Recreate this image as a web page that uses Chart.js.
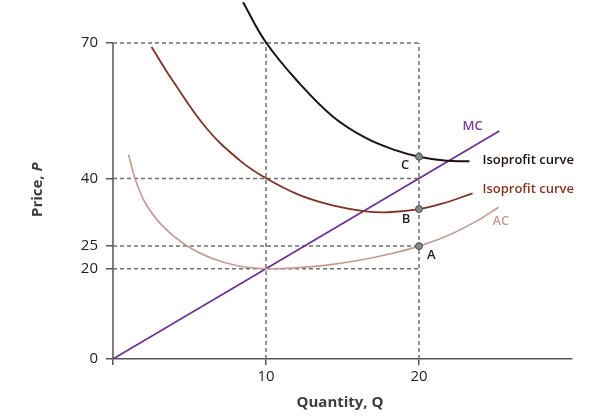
<!DOCTYPE html>
<html>
<head>
<meta charset="utf-8">
<script src="https://cdn.jsdelivr.net/npm/chart.js@4"></script>
<style>
  html, body { margin: 0; padding: 0; background: #fff; }
  #wrap { width: 602px; height: 419px; }
</style>
</head>
<body>
<div id="wrap"><canvas id="chart" width="602" height="419"></canvas></div>
<script>
// values (Q, P)
const xTicks = [0, 10, 20];
const yTicks = [0, 20, 25, 40, 70];

const mcQ = [0, 25.25];
const mcP = [0, 50.5];

const acQ = [1.02, 1.42, 2.1, 3.2, 4.72, 6.46, 8.2, 10, 12, 14, 16, 18, 20, 22, 24, 25.2];
const acP = [45.3, 40.2, 34.6, 29.6, 25.3, 22.3, 20.6, 20, 20.2, 20.8, 21.8, 23.2, 25, 27.5, 31, 33.6];

const isoLowQ = [2.52, 3.93, 6.11, 8.28, 9.92, 12.2, 14.5, 16.5, 18, 20, 21.5, 23.5];
const isoLowP = [69.1, 61.5, 51.1, 44.0, 40.2, 36.3, 33.9, 32.7, 32.5, 33.2, 34.4, 36.7];

const isoHighQ = [8.5, 10, 12.2, 14.4, 16.55, 18.5, 20, 21.8, 23.3];
const isoHighP = [79, 70.1, 61.0, 53.6, 48.9, 46.2, 44.8, 43.9, 43.8];

const guideLevelsP = [70, 40, 25, 20];
const guideLevelsQ = [10, 20];
const guideTopP = 70;
const guideRightQ = 20;

const pointNames = ['A', 'B', 'C'];
const pointQ = [20, 20, 20];
const pointP = [25, 33.2, 44.8];

const colors = {
    mc: '#6b2c8f',
    mcText: '#7a3a9e',
    ac: '#c39a90',
    acText: '#c49c92',
    isoLow: '#7e3327',
    isoLowText: '#85341f',
    isoHigh: '#1f0f0d',
    guide: '#6e6e6e',
    axis: '#555',
    text: '#1e1e1e'
};

function zip(xs, ys) {
    return xs.map((x, i) => ({ x: x, y: ys[i] }));
}

const guideSets = [];
guideLevelsP.forEach(p => guideSets.push({ data: [{ x: 0, y: p }, { x: guideRightQ, y: p }] }));
guideLevelsQ.forEach(q => guideSets.push({ data: [{ x: q, y: 0 }, { x: q, y: guideTopP }] }));
guideSets.forEach(s => Object.assign(s, {
    borderColor: colors.guide, borderWidth: 1.5, borderDash: [4, 3],
    pointRadius: 0, fill: false, order: 5
}));

function curve(q, p, color, width) {
    return {
        data: zip(q, p), borderColor: color, borderWidth: width,
        pointRadius: 0, fill: false, tension: 0.4, order: 2
    };
}

// text placed by data coordinates
const textLabels = [
    { text: 'C', q: 19.1, p: 43.0, color: colors.text, align: 'center' },
    { text: 'B', q: 19.15, p: 30.9, color: colors.text, align: 'center' },
    { text: 'A', q: 20.8, p: 23.0, color: colors.text, align: 'center' },
    { text: 'AC', q: 25.35, p: 30.4, color: colors.acText, align: 'center' },
    { text: 'MC', q: 23.5, p: 51.5, color: colors.mcText, align: 'center' },
    { text: 'Isoprofit curve', q: 24.15, p: 44.1, color: colors.isoHigh, align: 'left' },
    { text: 'Isoprofit curve', q: 24.15, p: 37.6, color: colors.isoLowText, align: 'left' }
];

const decor = {
    id: 'decor',
    beforeDatasetsDraw(chart) {
        const { ctx, scales: { x, y } } = chart;
        ctx.save();
        ctx.strokeStyle = colors.axis;
        ctx.lineWidth = 1.5;
        ctx.beginPath();
        ctx.moveTo(x.getPixelForValue(0), y.getPixelForValue(0));
        ctx.lineTo(x.getPixelForValue(0), y.getPixelForValue(yTicks[yTicks.length - 1]));
        ctx.stroke();
        ctx.restore();
    },
    afterDraw(chart) {
        const { ctx, scales: { x, y } } = chart;
        ctx.save();
        ctx.textBaseline = 'middle';
        ctx.font = '600 13px "Open Sans"';
        textLabels.forEach(l => {
            ctx.fillStyle = l.color;
            ctx.textAlign = l.align;
            ctx.fillText(l.text, x.getPixelForValue(l.q), y.getPixelForValue(l.p));
        });

        // axis titles
        ctx.fillStyle = '#3c3c3c';
        ctx.textAlign = 'left';
        const xt1 = 'Quantity, ', xt2 = 'Q';
        ctx.font = 'bold 15px "Open Sans"';
        const w1 = ctx.measureText(xt1).width, w2 = ctx.measureText(xt2).width;
        const cx = 340, cy = 403;
        ctx.fillText(xt1, cx - (w1 + w2) / 2, cy);
        ctx.fillText(xt2, cx - (w1 + w2) / 2 + w1, cy);

        ctx.translate(38, y.getPixelForValue(37.5));
        ctx.rotate(-Math.PI / 2);
        const yt1 = 'Price, ', yt2 = 'P';
        ctx.font = 'bold 15px "Open Sans"';
        const v1 = ctx.measureText(yt1).width;
        ctx.font = 'italic bold 15px "Open Sans"';
        const v2 = ctx.measureText(yt2).width;
        ctx.font = 'bold 15px "Open Sans"';
        ctx.fillText(yt1, -(v1 + v2) / 2, 0);
        ctx.font = 'italic bold 15px "Open Sans"';
        ctx.fillText(yt2, -(v1 + v2) / 2 + v1, 0);
        ctx.restore();
    }
};

const isoHighSet = curve(isoHighQ, isoHighP, colors.isoHigh, 2);
isoHighSet.clip = { left: 0, top: false, right: 0, bottom: 0 };

new Chart(document.getElementById('chart'), {
    type: 'line',
    data: {
        datasets: [
            ...guideSets,
            curve(acQ, acP, colors.ac, 1.6),
            curve(isoLowQ, isoLowP, colors.isoLow, 1.8),
            isoHighSet,
            curve(mcQ, mcP, colors.mc, 1.6),
            {
                data: zip(pointQ, pointP),
                showLine: false,
                pointRadius: 3.5,
                pointBackgroundColor: '#7f8c89',
                pointBorderColor: '#4d4d4d',
                pointBorderWidth: 1,
                order: 0
            }
        ]
    },
    options: {
        responsive: false,
        animation: false,
        events: [],
        layout: { padding: { top: 0, right: 30, left: 0, bottom: 0 } },
        plugins: { legend: { display: false }, tooltip: { enabled: false } },
        scales: {
            x: {
                type: 'linear', min: 0, max: 30,
                afterFit: s => { s.height = 60; s.paddingLeft = 0; s.paddingRight = 0; },
                afterBuildTicks: s => { s.ticks = xTicks.map(v => ({ value: v })); },
                grid: { drawOnChartArea: false, drawTicks: true, tickLength: 6, color: colors.axis, lineWidth: 1.5 },
                border: { display: true, color: colors.axis, width: 1.5 },
                ticks: {
                    padding: 3, color: colors.text,
                    font: { family: 'Open Sans', size: 15 },
                    callback: v => (v === 0 ? '' : String(v))
                }
            },
            y: {
                type: 'linear', min: 0, max: 78.4,
                afterFit: s => { s.width = 113; s.paddingTop = 0; s.paddingBottom = 0; },
                afterBuildTicks: s => { s.ticks = yTicks.map(v => ({ value: v })); },
                grid: { drawOnChartArea: false, drawTicks: true, tickLength: 7, color: colors.axis, lineWidth: 1.5 },
                border: { display: false },
                ticks: {
                    padding: 8, color: colors.text,
                    font: { family: 'Open Sans', size: 15 }
                }
            }
        }
    },
    plugins: [decor]
});
</script>
</body>
</html>
